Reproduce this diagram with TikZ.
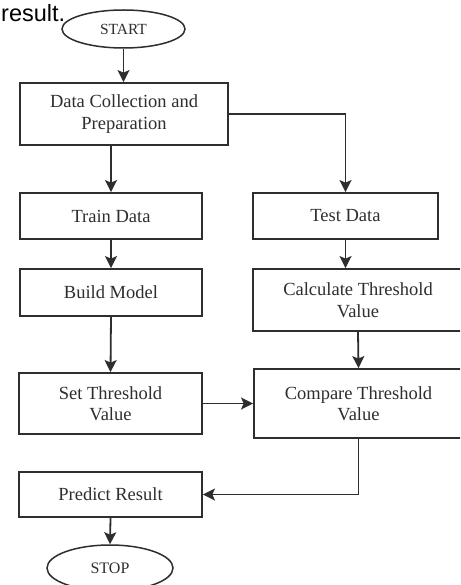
\documentclass[tikz,border=0pt]{standalone}
\usepackage{fontspec}
\setmainfont{Liberation Serif}
\newfontfamily\resultfont{Liberation Sans}
\usetikzlibrary{shapes.geometric,arrows.meta}
\definecolor{ink}{HTML}{2E2E2E}
\begin{document}
\begin{tikzpicture}[x=1pt,y=-1pt,
  stepbox/.style={draw=ink,line width=1.8pt,rectangle,inner sep=0pt,align=center,
    font=\fontsize{18.5}{21.5}\selectfont,text=ink},
  term/.style={draw=ink,line width=1.5pt,ellipse,inner sep=0pt,
    font=\fontsize{15.5}{18}\selectfont,text=ink},
  conn/.style={draw=ink,line width=1.8pt,-{Stealth[length=12pt,width=12pt,inset=2.5pt]}}]
\clip (0,0) rectangle (460,585);
\fill[white] (0,0) rectangle (460,585);
\node[anchor=base west,inner sep=0pt,font=\resultfont\fontsize{23.5}{25}\selectfont] (res) at (1,22) {result.};
\node[term,minimum width=123pt,minimum height=38pt] (start) at (123.5,29) {START};
\node[stepbox,minimum width=208pt,minimum height=62pt] (data) at (124,114) {Data Collection and\\Preparation};
\node[stepbox,minimum width=182pt,minimum height=46pt] (train) at (111,216) {Train Data};
\node[stepbox,minimum width=185pt,minimum height=46pt] (test) at (345.5,216) {Test Data};
\node[stepbox,minimum width=182pt,minimum height=47pt] (build) at (111,292.5) {Build Model};
\node[stepbox,minimum width=210pt,minimum height=62pt] (calc) at (358,300) {Calculate Threshold\\Value};
\node[stepbox,minimum width=183pt,minimum height=61pt] (set) at (110.5,403.5) {Set Threshold\\Value};
\node[stepbox,minimum width=209pt,minimum height=69pt] (compare) at (358.5,403.5) {Compare Threshold\\Value};
\node[stepbox,minimum width=183pt,minimum height=45pt] (predict) at (110.5,494.5) {Predict Result};
\node[term,minimum width=126pt,minimum height=46pt,font=\fontsize{16}{18}\selectfont] (stop) at (110,568) {STOP};
\draw[conn] (start.south) -- (start.south |- data.north);
\draw[conn] (train.north |- data.south) -- (train.north);
\draw[conn] (data.east) -| (test.north);
\draw[conn] (train.south) -- (build.north);
\draw[conn] (build.south) -- (set.north);
\draw[conn] (test.south) -- (test.south |- calc.north);
\draw[conn] (calc.south) -- (compare.north);
\draw[conn] (set.east) -- (compare.west);
\draw[conn] (compare.south) |- (predict.east);
\draw[conn] (predict.south) -- (stop.north);
\end{tikzpicture}
\end{document}
